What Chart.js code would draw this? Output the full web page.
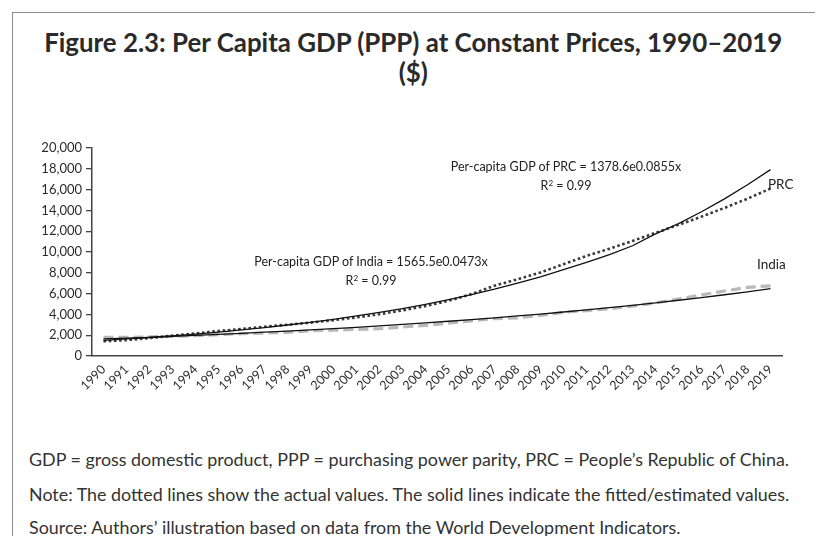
<!DOCTYPE html>
<html>
<head>
<meta charset="utf-8">
<script src="https://cdn.jsdelivr.net/npm/chart.js@4.4.1/dist/chart.umd.min.js"></script>
<style>
  html, body { margin:0; padding:0; background:#fff; }
  body { width:815px; height:536px; position:relative; overflow:hidden; font-family: Lato, "Noto Sans", sans-serif; color:#2b2b2b; }
  #frame { position:absolute; left:12px; top:12px; width:830px; height:560px; border:1.5px solid #8c8c8c; box-sizing:border-box; }
  .title { position:absolute; left:0; width:826px; text-align:center; font-weight:700; font-size:27px; line-height:34px; color:#2a2a2a; white-space:nowrap; }
  .title span { display:inline-block; transform-origin:center center; }
  #chartWrap { position:absolute; left:20px; top:136px; width:795px; height:270px; }
  .ann { position:absolute; font-size:12.5px; line-height:16px; color:#222; text-align:center; white-space:nowrap; }
  .lab { position:absolute; font-size:13.5px; color:#222; white-space:nowrap; }
  .foot { position:absolute; left:29px; font-size:18px; line-height:20px; color:#333; white-space:nowrap; transform-origin:left center; }
</style>
</head>
<body>
<div id="frame"></div>
<div class="title" style="top:25px;"><span id="t1">Figure 2.3: Per Capita GDP (PPP) at Constant Prices, 1990–2019</span></div>
<div class="title" style="top:55px;"><span id="t2">($)</span></div>
<div id="chartWrap"><canvas id="c" width="795" height="270"></canvas></div>

<div class="ann" style="left:444px; top:159px; width:244px;">Per-capita GDP of PRC = 1378.6e0.0855x<br>R<sup style="font-size:8px;vertical-align:4px;">2</sup> = 0.99</div>
<div class="ann" style="left:248px; top:254px; width:246px;">Per-capita GDP of India = 1565.5e0.0473x<br>R<sup style="font-size:8px;vertical-align:4px;">2</sup> = 0.99</div>
<div class="lab" style="left:768px; top:176px;">PRC</div>
<div class="lab" style="left:757px; top:256px;">India</div>

<div class="foot" id="f1" style="top:449px;">GDP = gross domestic product, PPP = purchasing power parity, PRC = People’s Republic of China.</div>
<div class="foot" id="f2" style="top:484px;">Note: The dotted lines show the actual values. The solid lines indicate the fitted/estimated values.</div>
<div class="foot" id="f3" style="top:517px;">Source: Authors’ illustration based on data from the World Development Indicators.</div>

<script>
// ---- Data ----
const years = ["1990","1991","1992","1993","1994","1995","1996","1997","1998","1999","2000","2001","2002","2003","2004","2005","2006","2007","2008","2009","2010","2011","2012","2013","2014","2015","2016","2017","2018","2019"];
const prcActual = [1420,1530,1730,1950,2180,2400,2600,2820,3010,3210,3450,3710,4020,4390,4800,5310,5950,6760,7380,8030,8830,9620,10320,11060,11840,12610,13400,14240,15130,16100];
const prcFitted = [1500,1640,1780,1940,2110,2300,2510,2730,2980,3240,3530,3850,4190,4560,4970,5420,5900,6420,7000,7620,8300,9000,9750,10600,11750,12730,13870,15110,16460,17920];
const indiaActual = [1800,1790,1840,1880,1950,2050,2150,2200,2280,2420,2480,2560,2620,2780,2950,3160,3380,3600,3670,3900,4200,4370,4550,4800,5100,5480,5880,6250,6600,6750];
const indiaFitted = [1640,1720,1800,1890,1980,2080,2180,2290,2400,2510,2630,2760,2900,3040,3180,3340,3500,3670,3850,4030,4230,4430,4650,4870,5110,5360,5620,5890,6170,6470];
const yTickValues = [0,2000,4000,6000,8000,10000,12000,14000,16000,18000,20000];

// ---- Fit text widths (layout only) ----
function fitWidth(el, target){ const w = el.getBoundingClientRect().width; el.style.transform = 'scaleX(' + (target / w) + ')'; return target / w; }
fitWidth(document.getElementById('t1'), 738);
document.getElementById('t2').style.transform = document.getElementById('t1').style.transform;
const sc = fitWidth(document.getElementById('f1'), 760);
document.getElementById('f2').style.transform = 'scaleX(' + sc + ')';
document.getElementById('f3').style.transform = 'scaleX(' + sc + ')';

// ---- Chart ----
const fmt = v => v.toLocaleString('en-US');
new Chart(document.getElementById('c'), {
  type: 'line',
  data: {
    labels: years,
    datasets: [
      { label:'PRC fitted', data: prcFitted, borderColor:'#111', borderWidth:1.3, pointRadius:0, tension:0, fill:false, order:1 },
      { label:'India fitted', data: indiaFitted, borderColor:'#111', borderWidth:1.3, pointRadius:0, tension:0, fill:false, order:2 },
      { label:'PRC actual', data: prcActual, borderColor:'#3a3a3a', borderWidth:2.6, borderDash:[2.6,2.6], borderCapStyle:'butt', pointRadius:0, tension:0, fill:false, order:3 },
      { label:'India actual', data: indiaActual, borderColor:'#b9b9b9', borderWidth:3.2, borderDash:[10,5], borderCapStyle:'butt', pointRadius:0, tension:0, fill:false, order:4 }
    ]
  },
  options: {
    responsive:false, animation:false, events:[],
    layout:{ padding:{ top:12, right:33, left:0, bottom:0 } },
    plugins:{ legend:{display:false}, tooltip:{enabled:false}, title:{display:false} },
    scales:{
      x:{
        type:'category', offset:true,
        grid:{ display:true, drawOnChartArea:false, drawTicks:false },
        border:{ display:true, color:'#444', width:1.5 },
        ticks:{ minRotation:45, maxRotation:45, autoSkip:false, padding:6, color:'#2b2b2b', font:{ family:'Lato', size:12.5 } },
        afterFit: s => { s.height = 50; }
      },
      y:{
        min:0, max:20000,
        afterBuildTicks: s => { s.ticks = yTickValues.map(v => ({ value:v })); },
        grid:{ display:true, drawOnChartArea:false, drawTicks:true, tickLength:6, color:'#444', lineWidth:1.3 },
        border:{ display:true, color:'#444', width:1.5 },
        ticks:{ padding:4, color:'#2b2b2b', font:{ family:'Lato', size:13 }, callback: v => fmt(v) },
        afterFit: s => { s.width = 72; }
      }
    }
  }
});
</script>
</body>
</html>
